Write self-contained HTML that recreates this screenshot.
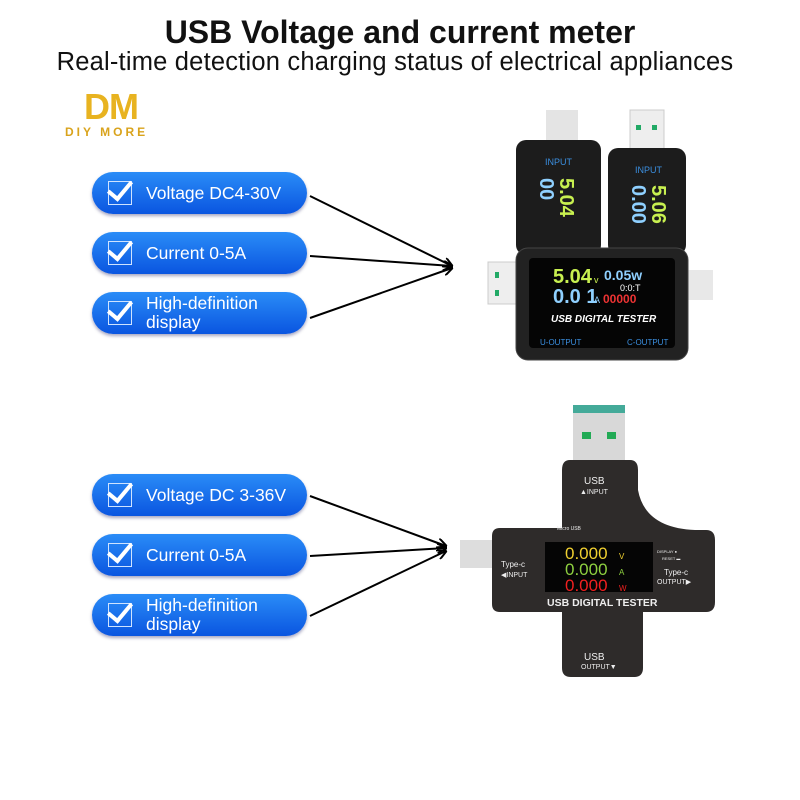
<!DOCTYPE html>
<html><head><meta charset="utf-8"><style>
body{margin:0;width:800px;height:800px;background:#fff;overflow:hidden;font-family:"Liberation Sans",sans-serif;position:relative}
.t1{position:absolute;top:14px;left:0;width:800px;text-align:center;font-size:32px;font-weight:bold;color:#111}
.t2{position:absolute;top:48px;left:0;width:790px;text-align:center;font-size:25.5px;color:#111;letter-spacing:0.2px}
.pill{position:absolute;left:92px;width:215px;height:42px;border-radius:21px;background:linear-gradient(#2a8cf7,#0a55e0);box-shadow:0 2px 3px rgba(0,0,80,.35);color:#fff;font-size:17.5px;line-height:19px;display:flex;align-items:center}
.pill .cb{position:relative;width:22px;height:22px;border:1.5px solid #cfe3ff;margin:0 14px 0 16px;flex:none}
.pill .cb:after{content:"";position:absolute;left:4px;top:-6px;width:10px;height:20px;border-right:4px solid #fff;border-bottom:4px solid #fff;transform:rotate(40deg)}
</style></head><body>
<div class="t1">USB Voltage and current meter</div>
<div class="t2">Real-time detection charging status of electrical appliances</div>
<div style="position:absolute;left:84px;top:86px;font-size:36px;font-weight:bold;color:#e8b320;letter-spacing:-1px">DM</div>
<div style="position:absolute;left:65px;top:125px;font-size:12px;font-weight:bold;color:#d9a31c;letter-spacing:3px">DIY MORE</div>

<div class="pill" style="top:172px"><span class="cb"></span>Voltage DC4-30V</div>
<div class="pill" style="top:232px"><span class="cb"></span>Current 0-5A</div>
<div class="pill" style="top:292px"><span class="cb"></span>High-definition<br>display</div>
<div class="pill" style="top:474px"><span class="cb"></span>Voltage DC 3-36V</div>
<div class="pill" style="top:534px"><span class="cb"></span>Current 0-5A</div>
<div class="pill" style="top:594px"><span class="cb"></span>High-definition<br>display</div>

<svg width="800" height="800" style="position:absolute;left:0;top:0" xmlns="http://www.w3.org/2000/svg">
<defs><marker id="a" markerWidth="10" markerHeight="10" refX="9" refY="5" orient="auto" markerUnits="userSpaceOnUse"><path d="M0,0 L10,5 L0,10" fill="none" stroke="#000" stroke-width="2"/></marker></defs>
<g stroke="#000" stroke-width="2" marker-end="url(#a)">
<line x1="310" y1="196" x2="452" y2="266"/><line x1="310" y1="256" x2="452" y2="266"/><line x1="310" y1="318" x2="452" y2="268"/>
<line x1="310" y1="496" x2="446" y2="546"/><line x1="310" y1="556" x2="446" y2="548"/><line x1="310" y1="616" x2="446" y2="551"/>
</g>
<!-- top devices -->
<rect x="546" y="110" width="32" height="35" fill="#e4e4e4"/>
<rect x="630" y="110" width="34" height="45" fill="#eee" stroke="#ccc"/>
<rect x="636" y="125" width="5" height="5" fill="#2a6"/><rect x="652" y="125" width="5" height="5" fill="#2a6"/>
<rect x="516" y="140" width="85" height="115" rx="10" fill="#1c1c1c"/>
<rect x="608" y="148" width="78" height="107" rx="10" fill="#1c1c1c"/>
<text x="545" y="165" fill="#3b8fe0" font-size="9">INPUT</text>
<text x="635" y="173" fill="#3b8fe0" font-size="9">INPUT</text>
<text x="540" y="178" fill="#8fd0ff" font-size="20" font-weight="bold" transform="rotate(90 540 178)">00</text>
<text x="560" y="178" fill="#c8f050" font-size="20" font-weight="bold" transform="rotate(90 560 178)">5.04</text>
<text x="632" y="185" fill="#8fd0ff" font-size="20" font-weight="bold" transform="rotate(90 632 185)">0.00</text>
<text x="652" y="185" fill="#c8f050" font-size="20" font-weight="bold" transform="rotate(90 652 185)">5.06</text>
<rect x="488" y="262" width="40" height="42" fill="#eee" stroke="#ccc"/>
<rect x="495" y="272" width="4" height="6" fill="#2a6"/><rect x="495" y="290" width="4" height="6" fill="#2a6"/>
<rect x="685" y="270" width="28" height="30" fill="#e8e8e8"/>
<rect x="516" y="248" width="172" height="112" rx="12" fill="#222" stroke="#444"/>
<rect x="529" y="258" width="146" height="90" rx="4" fill="#050505"/>
<text x="553" y="283" fill="#c8f050" font-size="20" font-weight="bold">5.04</text><text x="594" y="283" fill="#c8f050" font-size="9">v</text>
<text x="604" y="280" fill="#8fd0ff" font-size="14" font-weight="bold">0.05w</text>
<text x="553" y="303" fill="#8fd0ff" font-size="20" font-weight="bold">0.0 1</text><text x="594" y="303" fill="#8fd0ff" font-size="9">A</text>
<text x="620" y="291" fill="#fff" font-size="9">0:0:T</text>
<text x="603" y="303" fill="#e33" font-size="12" font-weight="bold">00000</text>
<text x="551" y="322" fill="#fff" font-size="10" font-weight="bold" font-style="italic">USB DIGITAL TESTER</text>
<text x="540" y="345" fill="#3b8fe0" font-size="8">U-OUTPUT</text><text x="627" y="345" fill="#3b8fe0" font-size="8">C-OUTPUT</text>
<!-- bottom device -->
<rect x="573" y="405" width="52" height="65" fill="#d8d8d8"/><rect x="573" y="405" width="52" height="8" fill="#4a9"/>
<rect x="582" y="432" width="9" height="7" fill="#2a5"/><rect x="607" y="432" width="9" height="7" fill="#2a5"/>
<rect x="460" y="540" width="35" height="28" fill="#ddd"/>
<path d="M570,460 H630 Q638,460 638,470 V490 Q645,528 695,530 H706 Q715,530 715,540 V602 Q715,612 706,612 H643 V668 Q643,677 634,677 H571 Q562,677 562,668 V612 H500 Q492,612 492,604 V536 Q492,528 500,528 H562 V470 Q562,460 570,460Z" fill="#2e2b2a"/>
<rect x="545" y="542" width="108" height="50" fill="#050505"/>
<text x="565" y="559" fill="#f0d030" font-size="17">0.000</text><text x="619" y="559" fill="#f0d030" font-size="8">V</text>
<text x="565" y="575" fill="#8ed040" font-size="17">0.000</text><text x="619" y="575" fill="#8ed040" font-size="8">A</text>
<text x="565" y="591" fill="#f02020" font-size="17">0.000</text><text x="619" y="591" fill="#f02020" font-size="8">W</text>
<text x="547" y="606" fill="#eee" font-size="10.5" font-weight="bold">USB DIGITAL TESTER</text>
<text x="584" y="484" fill="#eee" font-size="10">USB</text><text x="580" y="494" fill="#eee" font-size="7">▲INPUT</text>
<text x="501" y="567" fill="#eee" font-size="8">Type-c</text><text x="501" y="577" fill="#eee" font-size="7">◀INPUT</text>
<text x="664" y="575" fill="#eee" font-size="8">Type-c</text><text x="657" y="584" fill="#eee" font-size="7">OUTPUT▶</text>
<text x="557" y="530" fill="#eee" font-size="5">Micro USB</text>
<text x="657" y="553" fill="#eee" font-size="4">DISPLAY ●</text><text x="662" y="560" fill="#eee" font-size="4">RESET ▬</text>
<text x="584" y="660" fill="#eee" font-size="10">USB</text><text x="581" y="669" fill="#eee" font-size="7">OUTPUT▼</text>
</svg>
</body></html>
